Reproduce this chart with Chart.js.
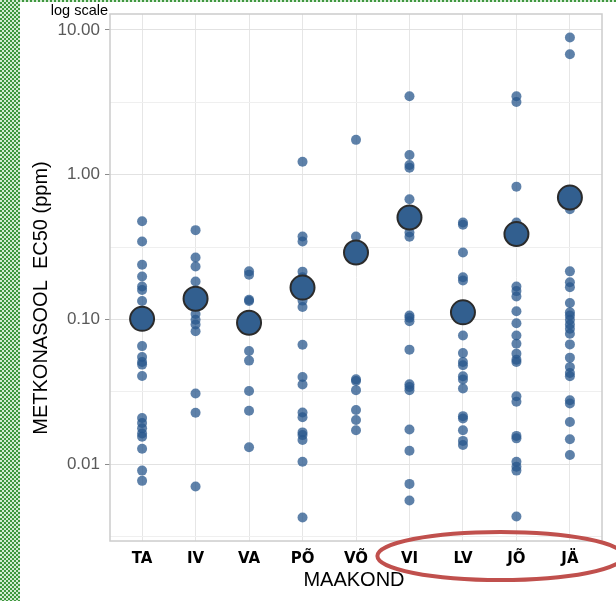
<!DOCTYPE html>
<html>
<head>
<meta charset="utf-8">
<script src="https://cdn.jsdelivr.net/npm/chart.js@4"></script>
<style>
html,body{margin:0;padding:0;background:#fff;}
#wrap{position:relative;width:616px;height:601px;overflow:hidden;}
.green{position:absolute;background:repeating-conic-gradient(#3f973f 0 25%, #d4ebd4 0 50%) 0 0/4px 4px;}
#chart{position:absolute;left:0;top:0;}
</style>
</head>
<body>
<div id="wrap">
  <div class="green" style="left:0;top:0;width:20px;height:601px"></div>
  <div class="green" style="left:0;top:0;width:616px;height:2px"></div>
  <canvas id="chart" width="616" height="601"></canvas>
</div>
<script>
// maakonnad (x axis)
const regions = ["TA","IV","VA","PÕ","VÕ","VI","LV","JÕ","JÄ"];

// EC50 values per maakond (ppm)
const ta = [0.477,0.346,0.239,0.198,0.169,0.160,0.134,0.0655,0.0550,0.0508,0.0488,0.0407,0.0209,0.0193,0.0177,0.0163,0.0155,0.0128,0.00904,0.00768];
const iv = [0.414,0.268,0.232,0.183,0.155,0.125,0.109,0.0995,0.0924,0.0830,0.0308,0.0227,0.00702];
const va = [0.215,0.204,0.137,0.134,0.0605,0.0520,0.0321,0.0234,0.0131];
const po = [1.228,0.374,0.346,0.214,0.196,0.135,0.122,0.0670,0.0401,0.0356,0.0228,0.0211,0.0166,0.0159,0.0147,0.0104,0.00429];
const vo = [1.741,0.374,0.0386,0.0376,0.0325,0.0237,0.0202,0.0172];
const vi = [3.48,1.367,1.166,1.117,0.677,0.399,0.373,0.1065,0.1027,0.0973,0.0619,0.0357,0.0342,0.0325,0.0174,0.0124,0.00732,0.00562];
const lv = [0.467,0.451,0.290,0.196,0.186,0.0776,0.0586,0.0508,0.0483,0.0405,0.0385,0.0334,0.0215,0.0207,0.0172,0.0145,0.0136];
const jo = [3.48,3.18,0.827,0.467,0.169,0.157,0.144,0.114,0.0943,0.0776,0.0680,0.0581,0.0528,0.0508,0.0295,0.0270,0.0157,0.0151,0.0104,0.00962,0.00904,0.00436];
const ja = [8.87,6.80,0.578,0.215,0.181,0.167,0.130,0.112,0.1065,0.0995,0.0924,0.0863,0.0797,0.0673,0.0545,0.0470,0.0427,0.0405,0.0277,0.0263,0.0196,0.0149,0.0116];

// big circles (mean per maakond)
const means = [0.101,0.139,0.095,0.166,0.290,0.506,0.112,0.389,0.695];

// labelled y ticks
const yTicks = [0.01,0.1,1,10];

const columns = [ta,iv,va,po,vo,vi,lv,jo,ja];
const dots = [];
columns.forEach((col,i) => col.forEach(v => dots.push({x:i, y:v})));

const halfDecades = [yTicks[0]/Math.sqrt(10)].concat(yTicks.map(v => v*Math.sqrt(10))).slice(0,4);
const allYTicks = yTicks.concat(halfDecades).sort((a,b) => a-b);

const extras = {
    id:"extras",
    beforeDatasetsDraw(chart){
        const a = chart.chartArea, ctx = chart.ctx;
        ctx.save();
        ctx.strokeStyle = "#cccccc";
        ctx.lineWidth = 1.5;
        ctx.strokeRect(a.left, a.top, a.right-a.left, a.bottom-a.top);
        ctx.restore();
    },
    afterDraw(chart){
        const a = chart.chartArea, ctx = chart.ctx, x = chart.scales.x;
        ctx.save();
        ctx.fillStyle = "#000";
        ctx.font = "14.5px 'Liberation Sans'";
        ctx.textAlign = "right";
        ctx.textBaseline = "alphabetic";
        ctx.fillText("log scale", a.left-2, 15);

        ctx.font = "20px 'Liberation Sans'";
        ctx.textAlign = "center";
        ctx.textBaseline = "middle";
        ctx.fillText("MAAKOND", (a.left+a.right)/2 - 2, 580);

        ctx.translate(41, 298);
        ctx.rotate(-Math.PI/2);
        ctx.fillText("METKONASOOL  EC50 (ppm)", 0, 0);
        ctx.restore();

        // red ellipse around the last four maakonnad
        const unit = x.getPixelForValue(1) - x.getPixelForValue(0);
        ctx.save();
        ctx.strokeStyle = "#c0504d";
        ctx.lineWidth = 4;
        ctx.beginPath();
        ctx.ellipse(x.getPixelForValue(6.7), a.bottom+15, unit*2.3, 24, 0, 0, Math.PI*2);
        ctx.stroke();
        ctx.restore();
    }
};

new Chart(
    document.getElementById("chart"),
    {
        type:"scatter",
        data:{
            datasets:[
                {
                    label:"mean",
                    data:means.map((v,i) => ({x:i, y:v})),
                    pointRadius:12,
                    pointBackgroundColor:"#325f8f",
                    pointBorderColor:"#2b2b2b",
                    pointBorderWidth:2
                },
                {
                    label:"EC50",
                    data:dots,
                    pointRadius:5,
                    pointBackgroundColor:"rgba(40,87,140,0.75)",
                    pointBorderWidth:0
                }
            ]
        },
        options:{
            responsive:false,
            animation:false,
            layout:{padding:{left:20, top:12, right:6, bottom:0}},
            plugins:{legend:{display:false}, tooltip:{enabled:false}},
            scales:{
                x:{
                    type:"linear",
                    min:-0.6,
                    max:8.6,
                    afterBuildTicks:s => { s.ticks = regions.map((r,i) => ({value:i})); },
                    afterFit:s => { s.height = 60; s.paddingLeft = 0; s.paddingRight = 0; },
                    ticks:{
                        autoSkip:false,
                        maxRotation:0,
                        padding:9,
                        color:"#000",
                        font:{family:"DejaVu Sans", size:15, weight:"bold"},
                        callback:v => regions[v]
                    },
                    grid:{color:"#e6e6e6", drawTicks:false},
                    border:{display:false}
                },
                y:{
                    type:"logarithmic",
                    min:Math.pow(10,-2.53),
                    max:Math.pow(10,1.11),
                    afterBuildTicks:s => { s.ticks = allYTicks.map(v => ({value:v})); },
                    afterFit:s => { s.width = 90; s.paddingTop = 0; s.paddingBottom = 0; },
                    ticks:{
                        padding:5,
                        color:"#595959",
                        font:{family:"Liberation Sans", size:17},
                        callback:v => yTicks.includes(v) ? v.toFixed(2) : ""
                    },
                    grid:{
                        color:c => yTicks.includes(c.tick.value) ? "#e2e2e2" : "#efefef",
                        tickLength:5,
                        tickColor:c => yTicks.includes(c.tick.value) ? "#8c8c8c" : "rgba(0,0,0,0)"
                    },
                    border:{display:false}
                }
            }
        },
        plugins:[extras]
    }
);
</script>
</body>
</html>
